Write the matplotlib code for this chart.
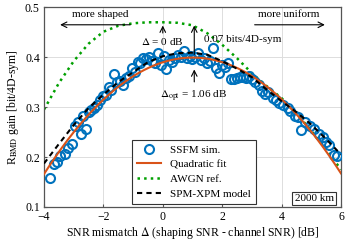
import numpy as np
import matplotlib
matplotlib.use("Agg")
import matplotlib.pyplot as plt

plt.rcParams['font.family'] = ['Liberation Serif', 'DejaVu Serif']
plt.rcParams['mathtext.fontset'] = 'stix'

# SSFM simulation points (SNR mismatch [dB], gain [bit/4D-sym])
ssfm_x = [-3.8, -3.65, -3.55, -3.45, -3.3, -3.2, -3.05, -2.95, -2.85, -2.75,
          -2.7, -2.6, -2.5, -2.4, -2.3, -2.2, -2.1, -2.0, -1.9, -1.8,
          -1.75, -1.65, -1.55, -1.45, -1.35, -1.25, -1.15, -1.05, -0.95, -0.85,
          -0.75, -0.65, -0.55, -0.45, -0.35, -0.25, -0.15, -0.05, 0.05, 0.1,
          0.2, 0.3, 0.4, 0.5, 0.6, 0.7, 0.8, 0.9, 1.0, 1.1,
          1.2, 1.3, 1.4, 1.5, 1.6, 1.7, 1.8, 1.9, 2.0, 2.1,
          2.2, 2.3, 2.4, 2.5, 2.6, 2.7, 2.8, 2.9, 3.0, 3.1,
          3.25, 3.35, 3.45, 3.55, 3.7, 3.8, 3.9, 4.05, 4.2, 4.3,
          4.45, 4.55, 4.65, 4.8, 4.95, 5.1, 5.25, 5.4, 5.5, 5.6,
          5.75, 5.85]
ssfm_y = [0.157, 0.185, 0.190, 0.203, 0.207, 0.218, 0.227, 0.262, 0.270, 0.246,
          0.282, 0.257, 0.290, 0.295, 0.298, 0.305, 0.315, 0.322, 0.325, 0.340,
          0.335, 0.366, 0.350, 0.353, 0.345, 0.358, 0.362, 0.378, 0.371, 0.390,
          0.388, 0.398, 0.396, 0.400, 0.392, 0.388, 0.408, 0.385, 0.402, 0.376,
          0.395, 0.390, 0.398, 0.405, 0.400, 0.413, 0.398, 0.403, 0.396, 0.400,
          0.409, 0.395, 0.398, 0.388, 0.392, 0.419, 0.378, 0.368, 0.385, 0.381,
          0.388, 0.357, 0.356, 0.358, 0.361, 0.360, 0.358, 0.362, 0.357, 0.351,
          0.345, 0.333, 0.326, 0.330, 0.318, 0.315, 0.308, 0.305, 0.298, 0.292,
          0.283, 0.280, 0.255, 0.271, 0.262, 0.256, 0.246, 0.240, 0.231, 0.225,
          0.205, 0.203]

# reference curves
curve_x = [-4.0, -3.5, -3.0, -2.5, -2.0, -1.5, -1.0, -0.5, 0.0, 0.5,
           1.0, 1.5, 2.0, 2.5, 3.0, 3.5, 4.0, 4.5, 5.0, 5.5, 6.0]
awgn_y = [0.295, 0.348, 0.392, 0.427, 0.451, 0.463, 0.468, 0.470, 0.470, 0.469,
          0.464, 0.448, 0.425, 0.398, 0.368, 0.342, 0.318, 0.287, 0.253, 0.215, 0.175]
spm_xpm_y = [0.187, 0.226, 0.264, 0.298, 0.325, 0.350, 0.370, 0.390, 0.402, 0.408,
             0.409, 0.405, 0.392, 0.377, 0.360, 0.335, 0.312, 0.290, 0.265, 0.236, 0.205]

# quadratic fit of the SSFM points
coef = np.polyfit(ssfm_x, ssfm_y, 2)
fit_x = np.linspace(-4, 6, 200)
fit_y = np.polyval(coef, fit_x)

fig = plt.figure(figsize=(3.49, 2.44), dpi=100)
ax = fig.add_axes([0.126, 0.152, 0.851, 0.818])

ax.plot(ssfm_x, ssfm_y, 'o', mfc='none', mec='#0072BD', mew=1.5, ms=6.5,
        label='SSFM sim.', zorder=3)
ax.plot(fit_x, fit_y, '-', color='#D95319', lw=1.5, label='Quadratic fit', zorder=4)
ax.plot(curve_x, awgn_y, ':', color='#00A000', lw=1.8, label='AWGN ref.', zorder=2)
ax.plot(curve_x, spm_xpm_y, '--', color='black', lw=1.5, dashes=(2.5, 2),
        label='SPM-XPM model', zorder=5)

ax.set_xlim(-4, 6)
ax.set_ylim(0.1, 0.5)
ax.set_xticks([-4, -2, 0, 2, 4, 6])
ax.set_yticks([0.1, 0.2, 0.3, 0.4, 0.5])
ax.grid(True, color='#dddddd', lw=0.7)
ax.set_axisbelow(True)
for s in ax.spines.values():
    s.set_color('#555555')
    s.set_linewidth(0.9)
ax.tick_params(direction='in', length=2.5, labelsize=8.5, color='#555555', pad=3)

ax.set_xlabel(r'SNR mismatch $\Delta$ (shaping SNR - channel SNR) [dB]', fontsize=8.5,
              labelpad=1.5)
ax.set_ylabel(r'R$_{\rm BMD}$ gain [bit/4D-sym]', fontsize=8.5, labelpad=3)

# annotations
fs = 8
ax.text(-2.1, 0.485, 'more shaped', fontsize=fs, ha='center', va='center')
ax.annotate('', xy=(-3.55, 0.465), xytext=(-1.0, 0.465),
            arrowprops=dict(arrowstyle='->', lw=0.8))
ax.text(4.25, 0.485, 'more uniform', fontsize=fs, ha='center', va='center')
ax.annotate('', xy=(5.55, 0.465), xytext=(3.0, 0.465),
            arrowprops=dict(arrowstyle='->', lw=0.8))
ax.text(0.0, 0.432, r'$\Delta$ = 0 dB', fontsize=fs, ha='center', va='center')
ax.annotate('', xy=(0.0, 0.469), xytext=(0.0, 0.443),
            arrowprops=dict(arrowstyle='->', lw=0.8))
ax.annotate('', xy=(1.06, 0.469), xytext=(1.06, 0.40),
            arrowprops=dict(arrowstyle='->', lw=0.8))
ax.text(2.7, 0.435, '0.07 bits/4D-sym', fontsize=fs, ha='center', va='center')
ax.annotate('', xy=(1.06, 0.381), xytext=(1.06, 0.345),
            arrowprops=dict(arrowstyle='->', lw=0.8))
ax.text(1.04, 0.322, r'$\Delta_{\rm opt}$ = 1.06 dB', fontsize=fs, ha='center', va='center')

ax.text(0.975, 0.02, '2000 km', transform=ax.transAxes, fontsize=fs,
        ha='right', va='bottom',
        bbox=dict(boxstyle='square,pad=0.2', fc='white', ec='#333333', lw=0.8))

leg = ax.legend(loc='lower left', bbox_to_anchor=(0.296, 0.015), fontsize=fs,
                fancybox=False, edgecolor='#333333', framealpha=1,
                handlelength=2.2, borderaxespad=0.0, labelspacing=0.45,
                borderpad=0.45)
leg.get_frame().set_linewidth(0.8)

fig.savefig('out.png', dpi=100)
